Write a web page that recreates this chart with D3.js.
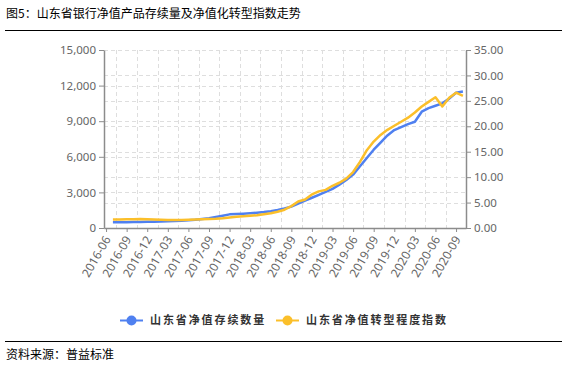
<!DOCTYPE html>
<html>
<head>
<meta charset="utf-8">
<script src="https://cdn.jsdelivr.net/npm/d3@7"></script>
<style>
  body { margin: 0; background: #fff; }
  text { font-family: "Noto Sans CJK SC", "Noto Sans", sans-serif; }
</style>
</head>
<body>
<script>
// Data (monthly, 2016-07 .. 2020-10)
var months = [
  "2016-07","2016-08","2016-09","2016-10","2016-11","2016-12",
  "2017-01","2017-02","2017-03","2017-04","2017-05","2017-06",
  "2017-07","2017-08","2017-09","2017-10","2017-11","2017-12",
  "2018-01","2018-02","2018-03","2018-04","2018-05","2018-06",
  "2018-07","2018-08","2018-09","2018-10","2018-11","2018-12",
  "2019-01","2019-02","2019-03","2019-04","2019-05","2019-06",
  "2019-07","2019-08","2019-09","2019-10","2019-11","2019-12",
  "2020-01","2020-02","2020-03","2020-04","2020-05","2020-06",
  "2020-07","2020-08","2020-09","2020-10"
];
// 山东省净值存续数量 (left axis)
var countValues = [
  480, 485, 490, 500, 510, 520, 530, 540, 560, 590, 620, 660,
  700, 760, 820, 920, 1030, 1150, 1180, 1210, 1250, 1290, 1340, 1420,
  1520, 1640, 1800, 2050, 2300, 2550, 2800, 3050, 3300, 3650, 4050, 4500,
  5200, 5900, 6600, 7200, 7800, 8250, 8500, 8750, 8950, 9800, 10100, 10300,
  10500, 10900, 11400, 11500
];
// 山东省净值转型程度指数 (right axis)
var indexValues = [
  1.65, 1.65, 1.7, 1.7, 1.75, 1.7, 1.65, 1.6, 1.55, 1.55, 1.55, 1.6,
  1.65, 1.7, 1.75, 1.8, 1.9, 2.05, 2.2, 2.3, 2.4, 2.5, 2.7, 2.9,
  3.2, 3.6, 4.3, 5.2, 5.6, 6.6, 7.2, 7.5, 8.3, 8.9, 9.7, 11.0,
  13.0, 15.3, 17.0, 18.3, 19.3, 20.1, 20.9, 21.7, 22.7, 23.9, 24.8, 25.7,
  23.9, 25.6, 26.6, 26.0
];
var tickLabels = [
  "2016-06","2016-09","2016-12","2017-03","2017-06","2017-09",
  "2017-12","2018-03","2018-06","2018-09","2018-12","2019-03",
  "2019-06","2019-09","2019-12","2020-03","2020-06","2020-09"
];
var leftTicks = [0, 3000, 6000, 9000, 12000, 15000];
var rightTicks = [0, 5, 10, 15, 20, 25, 30, 35];
var seriesNames = ["山东省净值存续数量", "山东省净值转型程度指数"];
var colors = ["#4f80f0", "#fbbf2a"];

var width = 569, height = 366;
var plot = {left: 104, right: 466, top: 50, bottom: 228};

// month "YYYY-MM" -> months since 2016-06
function monthIndex(s) {
  var p = s.split("-");
  return (+p[0] - 2016) * 12 + (+p[1] - 6);
}

var svg = d3.select("body").append("svg")
    .attr("width", width)
    .attr("height", height);

var x = d3.scaleLinear()
    .domain([-0.3, 52.45])
    .range([plot.left, plot.right]);
var yLeft = d3.scaleLinear().domain([0, 15000]).range([plot.bottom, plot.top]);
var yRight = d3.scaleLinear().domain([0, 35]).range([plot.bottom, plot.top]);

// Title and rules
svg.append("text")
    .attr("x", 6).attr("y", 18)
    .style("font-size", "12px").style("fill", "#000")
    .text("图5：山东省银行净值产品存续量及净值化转型指数走势");
svg.append("line")
    .attr("x1", 5).attr("x2", 562).attr("y1", 30.5).attr("y2", 30.5)
    .style("stroke", "#000").style("stroke-width", 1);
svg.append("line")
    .attr("x1", 5).attr("x2", 562).attr("y1", 341.5).attr("y2", 341.5)
    .style("stroke", "#000").style("stroke-width", 1);
svg.append("text")
    .attr("x", 6).attr("y", 359)
    .style("font-size", "12px").style("fill", "#000")
    .text("资料来源：普益标准");

// Gridlines
var grid = svg.append("g")
    .style("stroke", "#dedede")
    .style("stroke-dasharray", "4,3")
    .style("stroke-width", 1);
grid.selectAll(".hl").data(leftTicks).enter().append("line")
    .attr("x1", plot.left).attr("x2", plot.right)
    .attr("y1", function(d) { return Math.round(yLeft(d)) + 0.5; })
    .attr("y2", function(d) { return Math.round(yLeft(d)) + 0.5; });
grid.selectAll(".hr").data(rightTicks).enter().append("line")
    .attr("x1", plot.left).attr("x2", plot.right)
    .attr("y1", function(d) { return Math.round(yRight(d)) + 0.5; })
    .attr("y2", function(d) { return Math.round(yRight(d)) + 0.5; });
grid.selectAll(".v").data(tickLabels).enter().append("line")
    .attr("x1", function(d) { return Math.round(x(monthIndex(d) + 1.5)) + 0.5; })
    .attr("x2", function(d) { return Math.round(x(monthIndex(d) + 1.5)) + 0.5; })
    .attr("y1", plot.top).attr("y2", plot.bottom);

// Axes
function styleAxis(g) {
  g.select(".domain").style("stroke", "#8c8c8c").style("stroke-width", 1.5);
  g.selectAll(".tick line").style("stroke", "#8c8c8c");
  g.selectAll(".tick text").style("fill", "#666").style("font-size", "11.5px")
      .style("font-family", "'Noto Sans', sans-serif");
}

svg.append("g")
    .attr("transform", "translate(" + plot.left + ",0)")
    .call(d3.axisLeft(yLeft).tickValues(leftTicks).tickFormat(d3.format(",")).tickSize(5).tickSizeOuter(0))
    .call(styleAxis);

svg.append("g")
    .attr("transform", "translate(" + plot.right + ",0)")
    .call(d3.axisRight(yRight).tickValues(rightTicks).tickFormat(d3.format(".2f")).tickSize(5).tickSizeOuter(0))
    .call(styleAxis);

var xAxis = svg.append("g")
    .attr("transform", "translate(0," + plot.bottom + ")")
    .call(d3.axisBottom(x)
        .tickValues(tickLabels.map(monthIndex))
        .tickFormat(function(d, i) { return tickLabels[i]; })
        .tickSize(4).tickSizeOuter(0))
    .call(styleAxis);
xAxis.selectAll(".tick text")
    .style("font-size", "12px")
    .attr("text-anchor", "end")
    .attr("x", 0).attr("y", 0)
    .attr("dy", "0.35em")
    .attr("transform", "translate(1,9) rotate(-60)");

// Lines
var seriesData = [
  months.map(function(m, i) { return [x(monthIndex(m)), yLeft(countValues[i])]; }),
  months.map(function(m, i) { return [x(monthIndex(m)), yRight(indexValues[i])]; })
];
var line = d3.line();
svg.selectAll(".series").data(seriesData).enter().append("path")
    .attr("d", line)
    .style("fill", "none")
    .style("stroke", function(d, i) { return colors[i]; })
    .style("stroke-width", 2.5)
    .style("stroke-linejoin", "round");

// Legend
var legendX = [120, 276];
var legend = svg.selectAll(".legend").data(seriesNames).enter().append("g")
    .attr("transform", function(d, i) { return "translate(" + legendX[i] + ",320.5)"; });
legend.append("line")
    .attr("x1", 0).attr("x2", 23)
    .style("stroke", function(d, i) { return colors[i]; })
    .style("stroke-width", 2);
legend.append("circle")
    .attr("cx", 11.5).attr("r", 5)
    .style("fill", function(d, i) { return colors[i]; });
legend.append("text")
    .attr("x", 30).attr("dy", "0.35em")
    .style("font-size", "11px")
    .style("font-weight", "bold")
    .style("letter-spacing", "1.9px")
    .style("fill", "#333")
    .text(function(d) { return d; });
</script>
</body>
</html>
